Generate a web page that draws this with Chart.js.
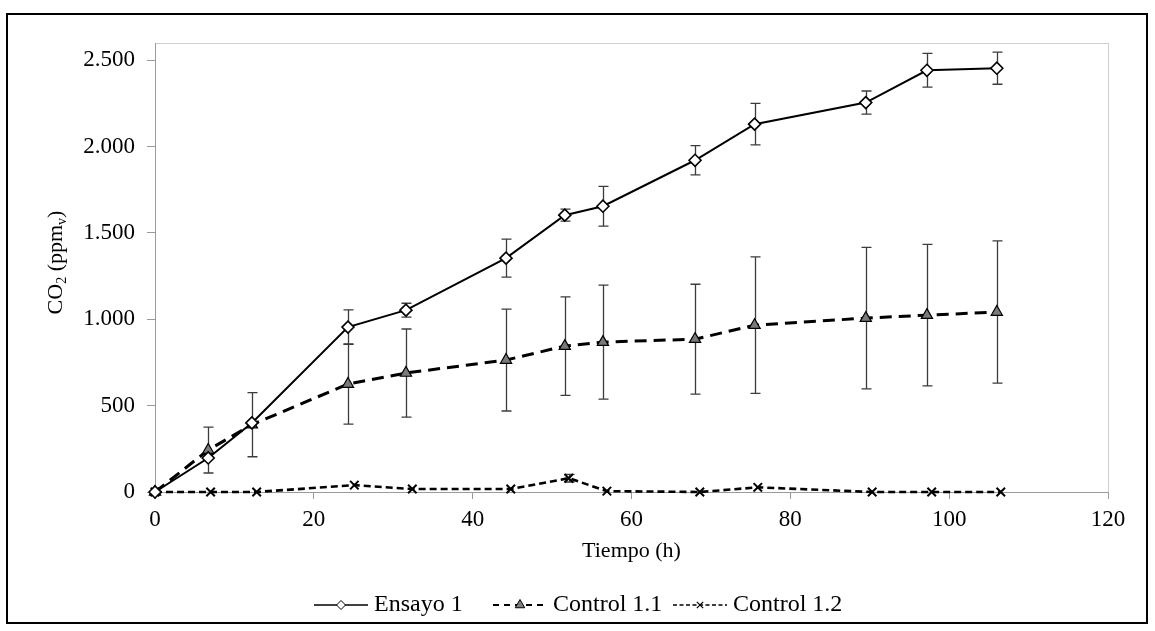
<!DOCTYPE html>
<html>
<head>
<meta charset="utf-8">
<script src="https://cdn.jsdelivr.net/npm/chart.js@4.4.1/dist/chart.umd.min.js"></script>
<style>
html,body{margin:0;padding:0;background:#fff;}
#wrap{position:relative;width:1155px;height:631px;overflow:hidden;}
#c{position:absolute;left:0;top:0;}
#frame{position:absolute;left:6px;top:13px;width:1142px;height:611px;border:2px solid #000;box-sizing:border-box;pointer-events:none;}
</style>
</head>
<body>
<div id="wrap"><canvas id="c" width="1155" height="631"></canvas><div id="frame"></div></div>
<script>
// ---- data ----
const seriesNames = ['Ensayo 1', 'Control 1.1', 'Control 1.2'];
const timeA = [0, 6.7, 12.2, 24.3, 31.6, 44.2, 51.6, 56.4, 68.0, 75.5, 89.5, 97.2, 106.0];
const timeB = [0, 7.0, 12.8, 25.1, 32.4, 44.8, 52.1, 56.9, 68.6, 75.9, 90.3, 97.8, 106.5];
const ensayo1 = [0, 197, 400, 955, 1053, 1354, 1603, 1655, 1921, 2130, 2255, 2442, 2454];
const ensayo1Err = [0, 0, 0, 100, 40, 110, 35, 115, 85, 120, 67, 98, 93];
const control11 = [0, 243, 390, 625, 689, 764, 845, 868, 885, 966, 1007, 1024, 1042];
const control11Err = [0, 133, 186, 232, 255, 295, 285, 330, 318, 395, 410, 410, 412];
const control12 = [0, 0, 0, 40, 17, 17, 80, 5, 0, 27, 0, 0, 0];
const control12Err = [0, 0, 0, 0, 0, 0, 22, 0, 0, 0, 0, 0, 0];
const xTicks = [0, 20, 40, 60, 80, 100, 120];
const yTicks = [0, 500, 1000, 1500, 2000, 2500];
const xTitle = 'Tiempo (h)';
const yTitleParts = [['CO', false], ['2', true], [' (ppm', false], ['v', true], [')', false]];

const FONT = "'Liberation Serif','Times New Roman',serif";
const FS = 23;
const fmt = v => String(v).replace(/\B(?=(\d{3})+(?!\d))/g, '.');
const pts = (xs, ys) => xs.map((x, i) => ({x: x, y: ys[i]}));

const errorBars = {
  id: 'errorBars',
  beforeDatasetsDraw(chart) {
    const ctx = chart.ctx, xs = chart.scales.x, ys = chart.scales.y;
    chart.data.datasets.forEach(ds => {
      if (!ds.errors) return;
      ctx.save();
      ctx.strokeStyle = '#3c3c3c';
      ctx.lineWidth = 1.3;
      ctx.setLineDash([]);
      ds.data.forEach((p, j) => {
        const e = ds.errors[j];
        if (!e) return;
        const px = Math.round(xs.getPixelForValue(p.x)) + 0.5;
        const y1 = ys.getPixelForValue(p.y + e), y2 = ys.getPixelForValue(p.y - e);
        ctx.beginPath();
        ctx.moveTo(px, y1); ctx.lineTo(px, y2);
        ctx.moveTo(px - 5, y1); ctx.lineTo(px + 5, y1);
        ctx.moveTo(px - 5, y2); ctx.lineTo(px + 5, y2);
        ctx.stroke();
      });
      ctx.restore();
    });
  }
};

const areaBox = {
  id: 'areaBox',
  beforeDraw(chart) {
    const ctx = chart.ctx, a = chart.chartArea;
    ctx.save();
    ctx.strokeStyle = '#cfcfcf';
    ctx.lineWidth = 1;
    ctx.strokeRect(Math.round(a.left) + 0.5, Math.round(a.top) + 0.5, Math.round(a.right - a.left), Math.round(a.bottom - a.top));
    ctx.restore();
  }
};

function drawMarker(ctx, style, r, x, y, fill, bw) {
  if (Chart.helpers && Chart.helpers.drawPoint) {
    ctx.fillStyle = fill; ctx.strokeStyle = '#000'; ctx.lineWidth = bw; ctx.setLineDash([]);
    Chart.helpers.drawPoint(ctx, {pointStyle: style, radius: r, rotation: 0, borderWidth: bw}, x, y);
  }
}

const titlesLegend = {
  id: 'titlesLegend',
  afterDraw(chart) {
    const ctx = chart.ctx, a = chart.chartArea;
    ctx.save();
    ctx.fillStyle = '#000';
    ctx.font = '22px ' + FONT;
    ctx.textAlign = 'center';
    ctx.textBaseline = 'middle';
    ctx.fillText(xTitle, (a.left + a.right) / 2, 551);

    // y title with subscripts
    const subF = '14px ' + FONT, mainF = '22px ' + FONT;
    let total = 0;
    yTitleParts.forEach(([t, s]) => { ctx.font = s ? subF : mainF; total += ctx.measureText(t).width; });
    ctx.save();
    ctx.translate(55, (a.top + a.bottom) / 2 - 5);
    ctx.rotate(-Math.PI / 2);
    ctx.textAlign = 'left';
    ctx.textBaseline = 'alphabetic';
    let cx = -total / 2;
    yTitleParts.forEach(([t, s]) => {
      ctx.font = s ? subF : mainF;
      ctx.fillText(t, cx, s ? 11 : 7);
      cx += ctx.measureText(t).width;
    });
    ctx.restore();

    // legend
    const ly = 605;
    const starts = [314, 493, 673];
    const ds = chart.data.datasets;
    const legendStyle = [
      {dash: [], w: 1.6, style: 'rectRot', r: 4.5, fill: '#fff', bw: 1},
      {dash: [6, 5], w: 2, style: 'triangle', r: 5.5, fill: '#7f7f7f', bw: 1},
      {dash: [4, 2.5], w: 1.5, style: 'crossRot', r: 4.5, fill: '#000', bw: 1.2}
    ];
    ds.forEach((d, i) => {
      const x0 = starts[i], L = 54, st = legendStyle[i];
      ctx.save();
      ctx.strokeStyle = '#000';
      ctx.lineWidth = st.w;
      ctx.setLineDash(st.dash);
      ctx.beginPath(); ctx.moveTo(x0, ly); ctx.lineTo(x0 + L, ly); ctx.stroke();
      ctx.restore();
      ctx.save();
      drawMarker(ctx, st.style, st.r, x0 + L / 2, ly, st.fill, st.bw);
      ctx.restore();
      ctx.fillStyle = '#000';
      ctx.font = '24px ' + FONT;
      ctx.textAlign = 'left';
      ctx.textBaseline = 'middle';
      ctx.fillText(d.label, x0 + L + 6, ly);
    });
    ctx.restore();
  }
};

new Chart(document.getElementById('c'), {
  type: 'line',
  data: {
    datasets: [
      {
        label: seriesNames[0], data: pts(timeA, ensayo1), errors: ensayo1Err,
        borderColor: '#000', borderWidth: 2, tension: 0, clip: false,
        pointStyle: 'rectRot', pointRadius: 6, pointBackgroundColor: '#fff',
        pointBorderColor: '#000', pointBorderWidth: 1.6
      },
      {
        label: seriesNames[1], data: pts(timeA, control11), errors: control11Err,
        borderColor: '#000', borderWidth: 3, borderDash: [12, 7], tension: 0, clip: false,
        pointStyle: 'triangle', pointRadius: 6.5, pointBackgroundColor: '#7a7a7a',
        pointBorderColor: '#000', pointBorderWidth: 1.2
      },
      {
        label: seriesNames[2], data: pts(timeB, control12), errors: control12Err,
        borderColor: '#000', borderWidth: 2.6, borderDash: [7, 4], tension: 0, clip: false,
        pointStyle: 'crossRot', pointRadius: 6, pointBackgroundColor: '#000',
        pointBorderColor: '#000', pointBorderWidth: 2
      }
    ]
  },
  options: {
    responsive: false,
    animation: false,
    events: [],
    layout: {padding: {left: 0, top: 43, right: 47, bottom: 0}},
    plugins: {legend: {display: false}, tooltip: {enabled: false}, title: {display: false}},
    scales: {
      x: {
        type: 'linear', min: 0, max: 120,
        afterFit(s) { s.height = 139; },
        afterBuildTicks(s) { s.ticks = xTicks.map(v => ({value: v})); },
        grid: {drawOnChartArea: false, drawTicks: true, tickLength: 7, color: '#9a9a9a'},
        border: {color: '#9a9a9a', width: 1},
        ticks: {padding: 7, color: '#000', font: {family: FONT, size: FS}, maxRotation: 0, callback: v => fmt(v)}
      },
      y: {
        type: 'linear', min: 0, max: 2600,
        afterFit(s) { s.width = 155; },
        afterBuildTicks(s) { s.ticks = yTicks.map(v => ({value: v})); },
        grid: {drawOnChartArea: false, drawTicks: true, tickLength: 8, color: '#9a9a9a'},
        border: {color: '#9a9a9a', width: 1},
        ticks: {padding: 12, color: '#000', font: {family: FONT, size: FS}, callback: v => fmt(v)}
      }
    }
  },
  plugins: [areaBox, errorBars, titlesLegend]
});
</script>
</body>
</html>
